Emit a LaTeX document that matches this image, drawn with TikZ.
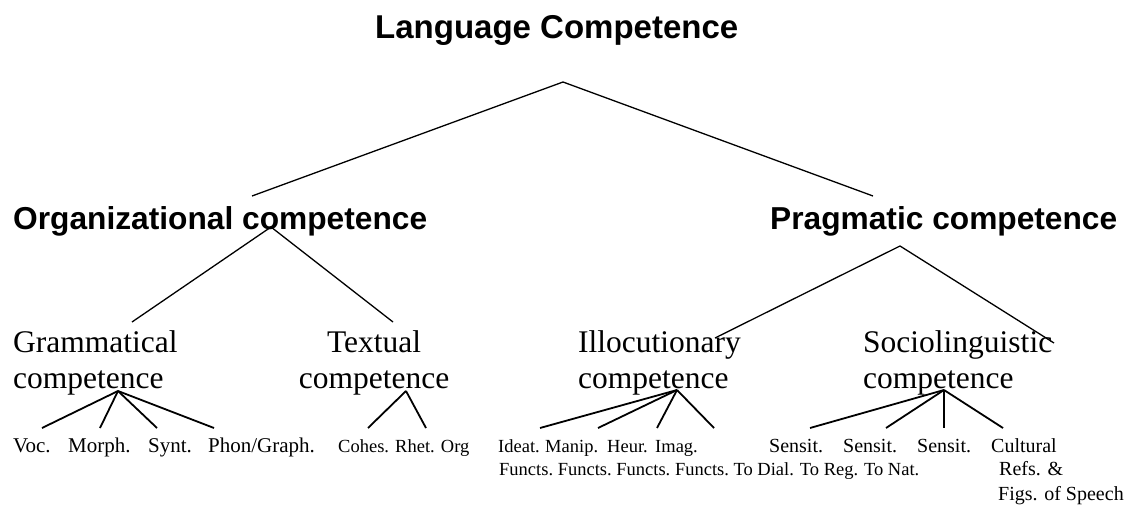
\documentclass[tikz,border=0pt]{standalone}
\usepackage{fontspec}
\setmainfont{Liberation Serif}
\newfontfamily\headfont{Liberation Sans}
\usetikzlibrary{calc}
\tikzstyle{headline} = [font=\headfont\bfseries\fontsize{33}{40}\selectfont, anchor=base west, inner sep=0pt]
\tikzstyle{branch} = [font=\headfont\bfseries\fontsize{31.7}{38}\selectfont, anchor=base west, inner sep=0pt]
\tikzstyle{skill} = [font=\fontsize{31.5}{36}\selectfont, anchor=base west, inner sep=0pt, align=left]
\tikzstyle{leaf} = [font=\fontsize{21}{24}\selectfont, anchor=base west, inner sep=0pt]
\tikzstyle{smallleaf} = [font=\fontsize{18.5}{24}\selectfont, anchor=base west, inner sep=0pt]
\tikzstyle{midleaf} = [font=\fontsize{20}{24}\selectfont, anchor=base west, inner sep=0pt]
\tikzstyle{link} = [line width=1.3pt]
\tikzstyle{twig} = [line width=1.8pt]

\begin{document}
\begin{tikzpicture}[x=1pt, y=-1pt]
    \useasboundingbox (0,0) rectangle (1142,508);
    % top two levels
    \node (lang)[headline] at (375,39) {Language Competence};
    \node (org)[branch] at (13,229) {Organizational competence};
    \node (prag)[branch] at (770,229) {Pragmatic competence};
    % third level (base = last line)
    \node (gram)[skill] at (13,388) {Grammatical\\competence};
    \node (text)[skill, anchor=base, align=center] at (374,388) {Textual\\competence};
    \node (illoc)[skill] at (578,388) {Illocutionary\\competence};
    \node (socio)[skill] at (863,388) {Sociolinguistic\\competence};
    % leaves
    \node (voc)[leaf] at (13,452) {Voc.};
    \node (morph)[leaf] at (68,452) {Morph.};
    \node (synt)[leaf] at (148,452) {Synt.};
    \node (phon)[leaf] at (208,452) {Phon/Graph.};
    \node (cohes)[smallleaf] at (338,452) {Cohes.};
    \node (rhet)[smallleaf] at (395,452) {Rhet. Org};
    \node (ideat)[smallleaf] at (498,452) {Ideat.};
    \node (manip)[smallleaf] at (545,452) {Manip.};
    \node (heur)[smallleaf] at (607,452) {Heur.};
    \node (imag)[smallleaf] at (655,452) {Imag.};
    \node (dial)[midleaf] at (769,452) {Sensit.};
    \node (reg)[midleaf] at (843,452) {Sensit.};
    \node (nat)[midleaf] at (917,452) {Sensit.};
    \node (cult)[midleaf] at (991,452) {Cultural};
    \node (ideat-2)[smallleaf] at (499,475) {Functs.};
    \node (manip-2)[smallleaf] at (557.6,475) {Functs.};
    \node (heur-2)[smallleaf] at (616.2,475) {Functs.};
    \node (imag-2)[smallleaf] at (674.8,475) {Functs.};
    \node (dial-2)[smallleaf] at (733.4,475) {To Dial.};
    \node (reg-2)[smallleaf] at (799.7,475) {To Reg.};
    \node (nat-2)[smallleaf] at (863.9,475) {To Nat.};
    \node (cult-2)[midleaf] at (999,475) {Refs. \&};
    \node (cult-3)[midleaf] at (998,500) {Figs. of Speech};
    % fork points and free line ends
    \coordinate (lang-fork) at (563,82);
    \coordinate (org-tip) at (252,196);
    \coordinate (prag-tip) at (873,196);
    \coordinate (org-fork) at (271,227);
    \coordinate (gram-tip) at (132,322);
    \coordinate (text-tip) at (393,322);
    \coordinate (prag-fork) at (900,246);
    \coordinate (illoc-tip) at (715,338);
    \coordinate (socio-tip) at (1054,343);
    \coordinate (gram-fork) at (118,391);
    \coordinate (text-fork) at (406,391);
    \coordinate (illoc-fork) at (677,390);
    \coordinate (socio-fork) at (944,390);
    \coordinate (voc-tip) at (42,428);
    \coordinate (morph-tip) at (100,428);
    \coordinate (synt-tip) at (157,428);
    \coordinate (phon-tip) at (214,428);
    \coordinate (cohes-tip) at (368,428);
    \coordinate (rhet-tip) at (426,428);
    \coordinate (ideat-tip) at (540,428);
    \coordinate (manip-tip) at (598,428);
    \coordinate (heur-tip) at (657,428);
    \coordinate (imag-tip) at (714,428);
    \coordinate (dial-tip) at (810,428);
    \coordinate (reg-tip) at (886,428);
    \coordinate (nat-tip) at (944,428);
    \coordinate (cult-tip) at (1003,428);
    % branches
    \draw[link] (org-tip) -- (lang-fork) -- (prag-tip);
    \draw[link] (gram-tip) -- (org-fork) -- (text-tip);
    \draw[link] (illoc-tip) -- (prag-fork) -- (socio-tip);
    \draw[twig] (gram-fork) -- (voc-tip);
    \draw[twig] (gram-fork) -- (morph-tip);
    \draw[twig] (gram-fork) -- (synt-tip);
    \draw[twig] (gram-fork) -- (phon-tip);
    \draw[twig] (text-fork) -- (cohes-tip);
    \draw[twig] (text-fork) -- (rhet-tip);
    \draw[twig] (illoc-fork) -- (ideat-tip);
    \draw[twig] (illoc-fork) -- (manip-tip);
    \draw[twig] (illoc-fork) -- (heur-tip);
    \draw[twig] (illoc-fork) -- (imag-tip);
    \draw[twig] (socio-fork) -- (dial-tip);
    \draw[twig] (socio-fork) -- (reg-tip);
    \draw[twig] (socio-fork) -- (nat-tip);
    \draw[twig] (socio-fork) -- (cult-tip);
\end{tikzpicture}
\end{document}
